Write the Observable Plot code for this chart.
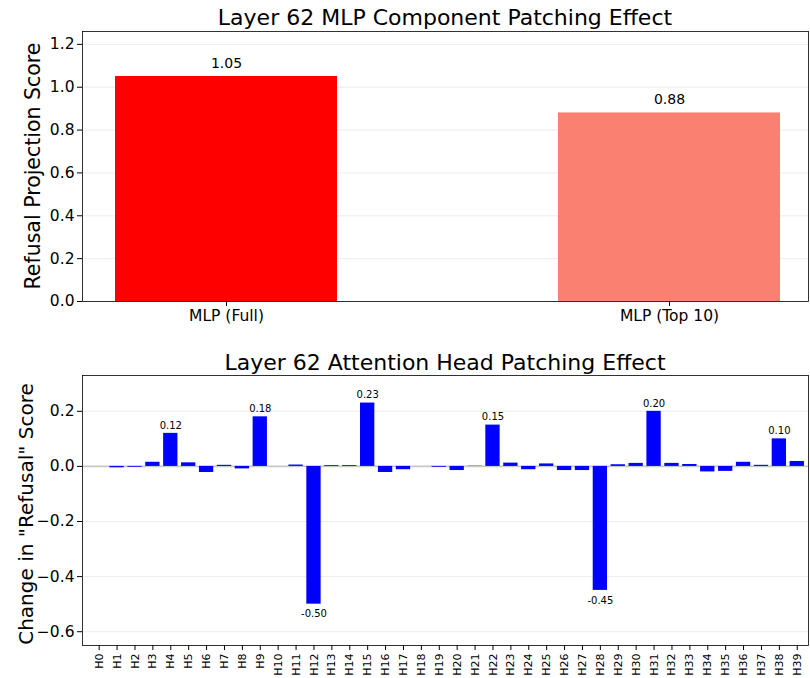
<!DOCTYPE html>
<html><head><meta charset="utf-8">
<script src="https://cdn.jsdelivr.net/npm/d3@7"></script>
<script src="https://cdn.jsdelivr.net/npm/@observablehq/plot@0.6"></script>
<style>
body{margin:0;background:#fff;font-family:"DejaVu Sans",sans-serif;}
#wrap{position:relative;width:810px;height:678px;overflow:hidden;background:#fff;}
.title{position:absolute;left:82px;width:726px;text-align:center;font-size:22px;color:#000;line-height:26px;white-space:nowrap;}
.ylab{position:absolute;white-space:nowrap;transform:translate(-50%,-50%) rotate(-90deg);line-height:22px;color:#000;}
.plot{position:absolute;left:0;}
</style></head><body><div id="wrap"></div>
<script>
// ---- data ----
const mlpCategories = ["MLP (Full)", "MLP (Top 10)"];
const mlpValues = [1.05, 0.88];
const mlpColors = ["#ff0000", "#fa8072"];
const mlpTicks = [0, 0.2, 0.4, 0.6, 0.8, 1.0, 1.2];

const headLabels = ["H0","H1","H2","H3","H4","H5","H6","H7","H8","H9",
  "H10","H11","H12","H13","H14","H15","H16","H17","H18","H19",
  "H20","H21","H22","H23","H24","H25","H26","H27","H28","H29",
  "H30","H31","H32","H33","H34","H35","H36","H37","H38","H39"];
const headValues = [0.0, -0.005, -0.003, 0.015, 0.12, 0.013, -0.022, 0.004, -0.009, 0.18,
  0.0, 0.005, -0.50, 0.003, 0.003, 0.23, -0.022, -0.012, 0.0, -0.003,
  -0.015, 0.001, 0.15, 0.012, -0.012, 0.009, -0.015, -0.015, -0.45, 0.006,
  0.011, 0.20, 0.011, 0.007, -0.02, -0.018, 0.015, 0.004, 0.10, 0.018];
const headTicks = [-0.6, -0.4, -0.2, 0.0, 0.2];

const wrap = document.getElementById("wrap");
function addDiv(cls, text, css) {
  const d = document.createElement("div");
  d.className = cls; d.textContent = text;
  Object.assign(d.style, css);
  wrap.appendChild(d);
  return d;
}

const baseStyle = {fontFamily: "DejaVu Sans, sans-serif", fontSize: "15.5px", color: "#000", background: "transparent", overflow: "visible"};

// ---- top chart ----
const mlpData = mlpCategories.map((c, i) => ({c, v: mlpValues[i], color: mlpColors[i]}));
const p1 = Plot.plot({
  width: 810, height: 305,
  marginLeft: 82, marginRight: 2, marginTop: 5, marginBottom: 30,
  style: baseStyle,
  x: {domain: mlpCategories, paddingInner: 0.5, paddingOuter: 0.069, align: 0.54, label: null},
  y: {domain: [0, 1.26], label: null},
  color: {type: "identity"},
  marks: [
    Plot.gridY(mlpTicks, {stroke: "#b0b0b0", strokeOpacity: 0.3, strokeWidth: 0.8}),
    Plot.barY(mlpData, {x: "c", y: "v", fill: "color"}),
    Plot.text(mlpData, {x: "c", y: "v", text: d => d.v.toFixed(2), dy: -13, fontSize: 14, fill: "#000"}),
    Plot.axisX({tickSize: 5, tickPadding: 3, label: null}),
    Plot.axisY({ticks: mlpTicks, tickFormat: ".1f", tickSize: 5, tickPadding: 3, label: null}),
    Plot.frame({stroke: "#000", strokeWidth: 0.8})
  ]
});
p1.classList.add("plot");
p1.style.top = "26px";
wrap.appendChild(p1);
addDiv("title", "Layer 62 MLP Component Patching Effect", {top: "5px"});
addDiv("ylab", "Refusal Projection Score", {left: "33px", top: "166px", fontSize: "20.5px"});

// ---- bottom chart ----
const headData = headLabels.map((h, i) => ({h, v: headValues[i]}));
const p2 = Plot.plot({
  width: 810, height: 308,
  marginLeft: 82, marginRight: 2, marginTop: 5, marginBottom: 33,
  style: baseStyle,
  x: {domain: headLabels, paddingInner: 0.2, paddingOuter: 0.38, align: 0.7, label: null},
  y: {domain: [-0.65, 0.33], label: null},
  marks: [
    Plot.gridY(headTicks, {stroke: "#b0b0b0", strokeOpacity: 0.3, strokeWidth: 0.8}),
    Plot.ruleY([0], {stroke: "#c8c8c8", strokeWidth: 1.6}),
    Plot.barY(headData, {x: "h", y: "v", fill: "#0000ff"}),
    Plot.text(headData.filter(d => d.v >= 0.1), {x: "h", y: "v", text: d => d.v.toFixed(2), dy: -8, fontSize: 10, fill: "#000"}),
    Plot.text(headData.filter(d => d.v <= -0.1), {x: "h", y: "v", text: d => d.v.toFixed(2), dy: 10, fontSize: 10, fill: "#000"}),
    Plot.axisX({tickSize: 5, tickPadding: 3, tickRotate: -90, fontSize: 11, label: null}),
    Plot.axisY({ticks: headTicks, tickFormat: ".1f", tickSize: 5, tickPadding: 3, label: null}),
    Plot.frame({stroke: "#000", strokeWidth: 0.8})
  ]
});
p2.classList.add("plot");
p2.style.top = "370px";
wrap.appendChild(p2);
addDiv("title", "Layer 62 Attention Head Patching Effect", {top: "350px"});
addDiv("ylab", "Change in \"Refusal\" Score", {left: "26px", top: "514px", fontSize: "20px"});
</script>
</body></html>
